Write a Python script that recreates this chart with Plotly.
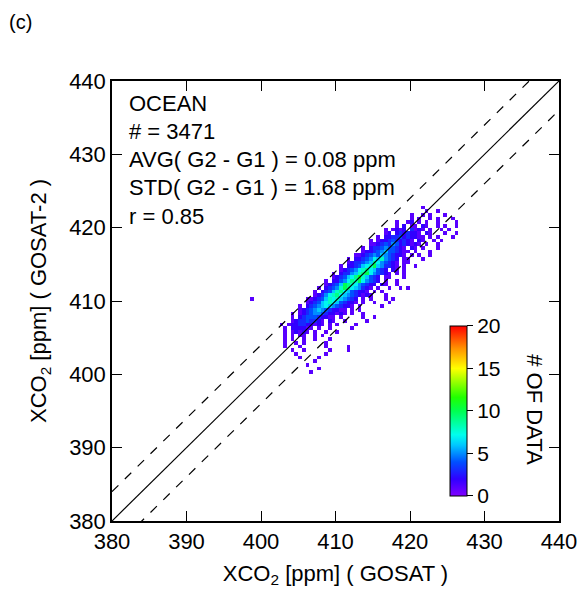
import numpy as np
import plotly.graph_objects as go

# axis ticks
tick_vals = [380, 390, 400, 410, 420, 430, 440]
cbar_ticks = [0, 5, 10, 15, 20]

# stats text
stats_lines = ["OCEAN", "# = 3471", "AVG( G2 - G1 ) = 0.08 ppm",
               "STD( G2 - G1 ) = 1.68 ppm", "r = 0.85"]

# density counts, 0.5 ppm bins
# each entry: lower edge of the y-bin, x of the first cell, counts ('.' = empty, base36)
bin_w = 0.5
row_y = [422.5, 422.0, 421.5, 421.0, 420.5, 420.0, 419.5, 419.0, 418.5, 418.0,
         417.5, 417.0, 416.5, 416.0, 415.5, 415.0, 414.5, 414.0, 413.5, 413.0,
         412.5, 412.0, 411.5, 411.0, 410.5, 410.0, 409.5, 409.0, 408.5, 408.0,
         407.5, 407.0, 406.5, 406.0, 405.5, 405.0, 404.5, 404.0, 403.5, 403.0,
         402.5, 402.0, 401.5, 401.0, 400.5, 400.0, 410.0]
row_x0 = [417.5, 417.0, 416.5, 416.0, 415.5, 415.0, 414.5, 414.0, 413.5, 413.0,
          412.5, 412.0, 411.5, 411.0, 410.5, 410.0, 409.5, 409.0, 408.5, 408.0,
          407.5, 407.0, 406.5, 406.0, 405.5, 405.0, 404.5, 404.0, 403.5, 403.0,
          402.5, 402.0, 401.5, 401.0, 400.5, 400.0, 399.5, 399.0, 398.5, 398.0,
          397.5, 397.0, 396.5, 396.0, 395.5, 395.0, 398.5]
row_counts = [
    "........1",
    "..........1..1",
    ".......1..1.1...1",
    "........1.1..1.1...1",
    ".....1..12.1.1..1....1",
    "......1.2.11.21..1.1..1",
    "....1.1212.3121.1..1.1",
    ".....12.2323221.21...1..1",
    "....1.22334232211.1.1...1",
    "...1.1223432321.21..1.1",
    "....11234354232121.1..1",
    "...1.2334544321.21.1...1",
    "....1223456443211.1...1",
    "...11234546543221.1.1..1",
    "..1.223457685432.11...1",
    "...12334569754321.11",
    "..1.2234678a653321.1..1",
    "...1234578976432.21.1",
    "..1.2335689a754321.1.1",
    "...1234679b86432.11...1",
    "..1.2245798a75432.1..1",
    "...12346a98754322.21..1",
    "..1.23458a9765321.1..1..1.1",
    "..1.2346897643221.1.1",
    "...1235789765432121...1",
    "..11234687865432.1.1...1.1",
    "...12346787643221.1..1...1",
    "..1.2345676543221.1.....1",
    "...1234565432211.1.1",
    "..1.1234554322121.1..1",
    "...1.2344432211.1.....1..1",
    "....123343321.21..1.....1",
    "..1.1223322121.1.1....1",
    "....1.222211.1..1.....1",
    ".....1.12121.1..1..1",
    "......1.1.11..1.1",
    ".......1.1..1..1...1",
    "........1..1.1.....1",
    ".........1...1......1.....1",
    "............1..1......1....1",
    "..............1.......1",
    "................1....1",
    ".....................1",
    "....................1",
    "........................1",
    ".......................1",
    "1",
]

# build the grid
x_lo, x_hi, y_lo, y_hi = 394.0, 430.0, 399.0, 424.0
nx = int(round((x_hi - x_lo) / bin_w))
ny = int(round((y_hi - y_lo) / bin_w))
z = np.full((ny, nx), np.nan)
for yb, x0, s in zip(row_y, row_x0, row_counts):
    r = int(round((yb - y_lo) / bin_w))
    for i, ch in enumerate(s):
        if ch == '.':
            continue
        c = int(round((x0 + i * bin_w - x_lo) / bin_w))
        z[r, c] = int(ch, 36)
xc = x_lo + bin_w * (np.arange(nx) + 0.5)
yc = y_lo + bin_w * (np.arange(ny) + 0.5)

rainbow = [
    [0.0, "#8000ff"], [0.1, "#3000ff"], [0.2, "#0050ff"], [0.3, "#00c8ff"],
    [0.36, "#00ffee"], [0.5, "#00ff50"], [0.58, "#20ff00"], [0.75, "#ffff00"],
    [0.87, "#ff9000"], [1.0, "#ff0000"],
]

font_name = "Liberation Sans, Arial, sans-serif"

fig = go.Figure()
fig.add_trace(go.Heatmap(
    x=xc, y=yc, z=z, zmin=0, zmax=20, colorscale=rainbow,
    hoverongaps=False,
    colorbar=dict(
        x=0.756, xanchor="left", xref="paper",
        y=0.057, yanchor="bottom", len=0.386, lenmode="fraction",
        thickness=17, thicknessmode="pixels",
        outlinecolor="black", outlinewidth=1,
        tickvals=cbar_ticks, ticks="outside", ticklen=6, tickcolor="black",
        tickfont=dict(size=21, color="black", family=font_name),
        xpad=0, ypad=0,
    ),
))

# 1:1 and +-4 ppm reference lines
for off, dash in [(0, "solid"), (4, "dash"), (-4, "dash")]:
    fig.add_trace(go.Scatter(
        x=[380, 440], y=[380 + off, 440 + off], mode="lines",
        line=dict(color="black", width=1.2, dash=dash),
        showlegend=False, hoverinfo="skip",
    ))

axis_common = dict(
    range=[380, 440], tickvals=tick_vals, ticks="inside", ticklen=10,
    tickwidth=1, tickcolor="black", showline=True, linecolor="black",
    linewidth=1.5, mirror="allticks", showgrid=False, zeroline=False,
    automargin=False,
    tickfont=dict(size=22, color="black", family=font_name),
)

fig.update_layout(
    width=578, height=593,
    paper_bgcolor="white", plot_bgcolor="white",
    margin=dict(l=112, r=19, t=81, b=72),
    font=dict(family=font_name, color="black"),
    showlegend=False,
    xaxis=dict(**axis_common,
               title=dict(text="XCO<sub>2</sub> [ppm] ( GOSAT )",
                          font=dict(size=22), standoff=12)),
    yaxis=dict(**axis_common,
               title=dict(text="XCO<sub>2</sub> [ppm] ( GOSAT-2 )",
                          font=dict(size=22), standoff=16)),
)

annotations = [
    dict(text="(c)", x=-0.235, y=1.163, xref="paper", yref="paper",
         xanchor="left", yanchor="top", showarrow=False,
         font=dict(size=20)),
    dict(text="# OF DATA", textangle=90, x=0.946, y=0.252, xref="paper",
         yref="paper", xanchor="center", yanchor="middle", showarrow=False,
         font=dict(size=22)),
]
for k, line in enumerate(stats_lines):
    annotations.append(dict(
        text=line, x=382.0, y=437.0 - k * 3.86, xref="x", yref="y",
        xanchor="left", yanchor="middle", showarrow=False,
        font=dict(size=22),
    ))
fig.update_layout(annotations=annotations)

# drop the default page margin so the figure sits at the window corner
fig.write_html("out.html", config={"displayModeBar": False},
               post_script="document.body.style.margin='0px';")
